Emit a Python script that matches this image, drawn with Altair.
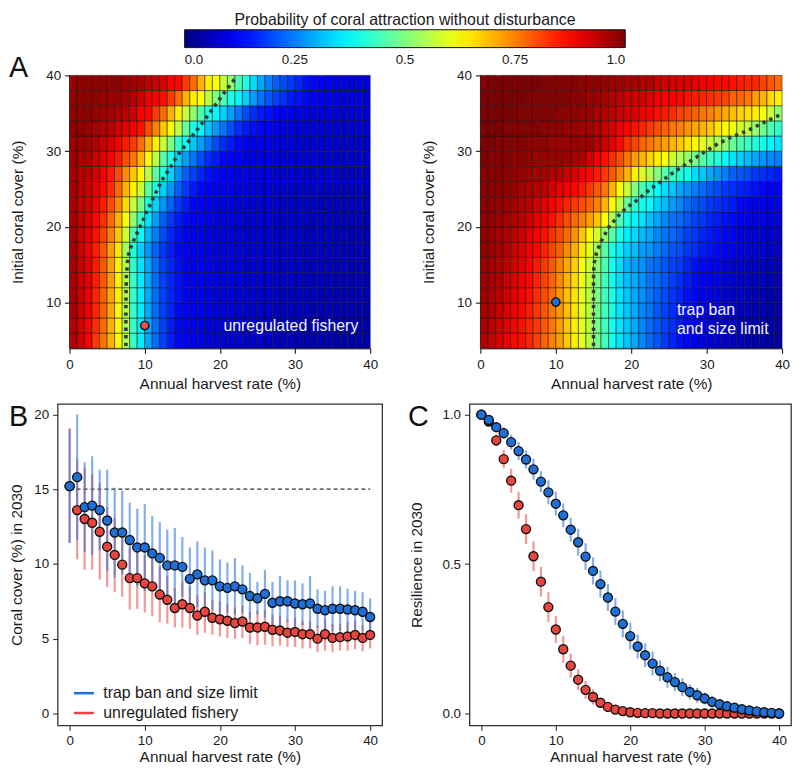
import json
import altair as alt
import pandas as pd

# ---------------- data ----------------
harvest_rate = list(range(41))

heat_harvest_edges = list(range(41))
heat_cover_edges = [4, 6, 8, 10, 12, 14, 16, 18, 20, 22, 24, 26, 28, 30, 32, 34, 36, 38, 40]

# rows from bottom (cover 4-6) to top (cover 38-40), 40 harvest-rate cells each
prob_unregulated = [
    [0.95,0.92,0.88,0.82,0.76,0.70,0.63,0.55,0.43,0.36, 0.29,0.23,0.19,0.15,0.13,0.12,0.11,0.10,0.09,0.09, 0.08,0.08,0.08,0.07,0.07,0.07,0.06,0.06,0.06,0.06, 0.05,0.05,0.05,0.05,0.05,0.04,0.04,0.04,0.04,0.04],
    [0.95,0.92,0.88,0.83,0.77,0.70,0.63,0.55,0.43,0.36, 0.29,0.23,0.19,0.15,0.13,0.12,0.11,0.10,0.09,0.09, 0.09,0.08,0.08,0.07,0.07,0.07,0.07,0.06,0.06,0.06, 0.06,0.05,0.05,0.05,0.05,0.05,0.04,0.04,0.04,0.04],
    [0.96,0.93,0.89,0.84,0.78,0.71,0.63,0.55,0.43,0.36, 0.29,0.23,0.19,0.16,0.13,0.12,0.11,0.10,0.10,0.09, 0.09,0.08,0.08,0.08,0.07,0.07,0.07,0.06,0.06,0.06, 0.06,0.06,0.05,0.05,0.05,0.05,0.05,0.05,0.04,0.04],
    [0.96,0.93,0.89,0.84,0.78,0.71,0.64,0.55,0.43,0.36, 0.29,0.23,0.19,0.16,0.14,0.12,0.11,0.10,0.10,0.09, 0.09,0.09,0.08,0.08,0.08,0.07,0.07,0.07,0.06,0.06, 0.06,0.06,0.06,0.05,0.05,0.05,0.05,0.05,0.05,0.05],
    [0.96,0.93,0.90,0.85,0.79,0.72,0.64,0.55,0.43,0.36, 0.29,0.23,0.19,0.16,0.14,0.12,0.11,0.11,0.10,0.10, 0.09,0.09,0.09,0.08,0.08,0.08,0.07,0.07,0.07,0.07, 0.06,0.06,0.06,0.06,0.06,0.05,0.05,0.05,0.05,0.05],
    [0.96,0.93,0.90,0.85,0.79,0.72,0.64,0.55,0.42,0.35, 0.29,0.23,0.19,0.16,0.14,0.12,0.11,0.11,0.10,0.10, 0.09,0.09,0.09,0.08,0.08,0.08,0.08,0.07,0.07,0.07, 0.07,0.06,0.06,0.06,0.06,0.06,0.06,0.05,0.05,0.05],
    [0.96,0.93,0.89,0.85,0.79,0.72,0.65,0.53,0.41,0.33, 0.27,0.22,0.18,0.15,0.13,0.12,0.11,0.10,0.10,0.09, 0.09,0.09,0.08,0.08,0.08,0.08,0.07,0.07,0.07,0.07, 0.06,0.06,0.06,0.06,0.06,0.06,0.05,0.05,0.05,0.05],
    [0.96,0.93,0.90,0.86,0.81,0.75,0.68,0.58,0.45,0.38, 0.30,0.25,0.20,0.16,0.14,0.12,0.11,0.10,0.10,0.09, 0.09,0.09,0.08,0.08,0.08,0.08,0.07,0.07,0.07,0.07, 0.07,0.06,0.06,0.06,0.06,0.06,0.06,0.05,0.05,0.05],
    [0.96,0.94,0.91,0.87,0.83,0.77,0.70,0.62,0.52,0.42, 0.35,0.28,0.22,0.18,0.15,0.13,0.12,0.11,0.10,0.10, 0.09,0.09,0.09,0.08,0.08,0.08,0.08,0.07,0.07,0.07, 0.07,0.07,0.06,0.06,0.06,0.06,0.06,0.06,0.05,0.05],
    [0.96,0.94,0.92,0.89,0.85,0.80,0.74,0.66,0.57,0.50, 0.40,0.33,0.27,0.22,0.18,0.15,0.13,0.12,0.11,0.10, 0.10,0.09,0.09,0.09,0.08,0.08,0.08,0.08,0.07,0.07, 0.07,0.07,0.07,0.06,0.06,0.06,0.06,0.06,0.06,0.05],
    [0.96,0.95,0.93,0.90,0.87,0.83,0.77,0.70,0.64,0.57, 0.47,0.40,0.33,0.27,0.22,0.18,0.15,0.13,0.12,0.11, 0.10,0.10,0.09,0.09,0.09,0.08,0.08,0.08,0.08,0.07, 0.07,0.07,0.07,0.07,0.06,0.06,0.06,0.06,0.06,0.06],
    [0.96,0.95,0.94,0.92,0.89,0.85,0.80,0.74,0.68,0.63, 0.56,0.46,0.40,0.33,0.27,0.22,0.19,0.16,0.14,0.13, 0.12,0.11,0.10,0.10,0.09,0.09,0.09,0.08,0.08,0.08, 0.08,0.07,0.07,0.07,0.07,0.07,0.06,0.06,0.06,0.06],
    [0.97,0.96,0.95,0.93,0.91,0.88,0.85,0.80,0.76,0.70, 0.63,0.56,0.46,0.40,0.33,0.28,0.24,0.20,0.17,0.15, 0.13,0.12,0.11,0.10,0.10,0.09,0.09,0.09,0.08,0.08, 0.08,0.08,0.08,0.07,0.07,0.07,0.07,0.07,0.07,0.07],
    [0.97,0.97,0.96,0.95,0.93,0.91,0.88,0.85,0.82,0.77, 0.70,0.64,0.57,0.50,0.42,0.38,0.32,0.28,0.24,0.20, 0.17,0.15,0.13,0.12,0.11,0.11,0.10,0.10,0.09,0.09, 0.09,0.08,0.08,0.08,0.08,0.08,0.07,0.07,0.07,0.07],
    [0.98,0.98,0.97,0.96,0.95,0.94,0.92,0.90,0.88,0.86, 0.80,0.75,0.68,0.63,0.56,0.47,0.40,0.37,0.32,0.28, 0.24,0.20,0.17,0.15,0.14,0.13,0.12,0.11,0.10,0.10, 0.09,0.09,0.09,0.09,0.08,0.08,0.08,0.08,0.08,0.08],
    [0.98,0.98,0.98,0.97,0.97,0.96,0.95,0.94,0.93,0.88, 0.87,0.82,0.77,0.70,0.64,0.57,0.52,0.45,0.40,0.37, 0.33,0.28,0.24,0.20,0.17,0.15,0.14,0.13,0.12,0.11, 0.10,0.10,0.09,0.09,0.09,0.09,0.08,0.08,0.08,0.08],
    [0.98,0.98,0.98,0.98,0.97,0.97,0.97,0.96,0.95,0.93, 0.89,0.88,0.86,0.82,0.77,0.70,0.64,0.62,0.56,0.50, 0.45,0.40,0.37,0.33,0.28,0.24,0.21,0.19,0.17,0.15, 0.14,0.13,0.12,0.11,0.10,0.10,0.09,0.09,0.09,0.08],
    [0.97,0.98,0.98,0.98,0.98,0.98,0.98,0.97,0.96,0.96, 0.94,0.93,0.91,0.88,0.87,0.82,0.77,0.70,0.64,0.62, 0.57,0.52,0.45,0.40,0.34,0.29,0.25,0.22,0.20,0.18, 0.16,0.14,0.13,0.12,0.11,0.10,0.10,0.09,0.09,0.09],
]

prob_trapban = [
    [0.95,0.93,0.91,0.89,0.87,0.86,0.84,0.81,0.78,0.75, 0.72,0.68,0.64,0.60,0.55,0.49,0.44,0.39,0.35,0.32, 0.29,0.26,0.23,0.21,0.18,0.16,0.14,0.13,0.11,0.10, 0.09,0.08,0.07,0.06,0.06,0.05,0.04,0.04,0.03,0.03],
    [0.96,0.94,0.92,0.90,0.88,0.86,0.84,0.82,0.79,0.76, 0.72,0.68,0.64,0.60,0.55,0.49,0.44,0.39,0.35,0.32, 0.29,0.26,0.23,0.21,0.19,0.17,0.15,0.13,0.12,0.10, 0.09,0.08,0.07,0.07,0.06,0.05,0.05,0.04,0.04,0.03],
    [0.96,0.95,0.93,0.91,0.89,0.87,0.85,0.82,0.79,0.76, 0.73,0.69,0.65,0.60,0.55,0.49,0.44,0.40,0.35,0.32, 0.29,0.26,0.24,0.21,0.19,0.17,0.15,0.14,0.12,0.11, 0.10,0.09,0.08,0.07,0.06,0.06,0.05,0.05,0.04,0.04],
    [0.97,0.95,0.94,0.92,0.90,0.88,0.86,0.83,0.80,0.77, 0.73,0.69,0.65,0.60,0.55,0.50,0.44,0.40,0.35,0.32, 0.29,0.27,0.24,0.22,0.20,0.18,0.16,0.14,0.13,0.11, 0.10,0.09,0.08,0.07,0.07,0.06,0.05,0.05,0.04,0.04],
    [0.97,0.96,0.95,0.93,0.91,0.89,0.87,0.84,0.81,0.78, 0.74,0.70,0.66,0.61,0.56,0.50,0.44,0.39,0.34,0.31, 0.29,0.27,0.24,0.23,0.21,0.19,0.17,0.15,0.13,0.12, 0.11,0.10,0.09,0.08,0.07,0.07,0.06,0.06,0.05,0.05],
    [0.97,0.96,0.95,0.94,0.92,0.90,0.88,0.85,0.82,0.79, 0.75,0.71,0.67,0.62,0.57,0.51,0.45,0.39,0.34,0.30, 0.28,0.27,0.24,0.23,0.21,0.19,0.18,0.16,0.14,0.13, 0.12,0.11,0.10,0.08,0.08,0.07,0.07,0.06,0.06,0.05],
    [0.98,0.97,0.96,0.95,0.93,0.91,0.89,0.87,0.84,0.81, 0.78,0.74,0.70,0.65,0.60,0.53,0.46,0.40,0.36,0.33, 0.31,0.28,0.27,0.25,0.23,0.21,0.20,0.18,0.17,0.15, 0.14,0.13,0.12,0.11,0.10,0.09,0.08,0.08,0.07,0.07],
    [0.98,0.97,0.96,0.95,0.94,0.92,0.90,0.88,0.86,0.83, 0.80,0.77,0.73,0.68,0.63,0.58,0.52,0.46,0.40,0.36, 0.34,0.31,0.29,0.26,0.24,0.23,0.21,0.19,0.18,0.16, 0.15,0.14,0.13,0.12,0.10,0.09,0.09,0.08,0.08,0.07],
    [0.98,0.98,0.97,0.96,0.95,0.94,0.92,0.90,0.88,0.86, 0.83,0.80,0.77,0.75,0.72,0.68,0.62,0.55,0.45,0.40, 0.37,0.35,0.31,0.29,0.26,0.24,0.23,0.21,0.19,0.18, 0.16,0.15,0.14,0.13,0.12,0.11,0.10,0.10,0.09,0.09],
    [0.99,0.98,0.98,0.97,0.96,0.95,0.94,0.92,0.90,0.88, 0.86,0.84,0.82,0.80,0.78,0.75,0.70,0.63,0.56,0.47, 0.42,0.39,0.37,0.33,0.31,0.28,0.26,0.23,0.21,0.20, 0.18,0.17,0.16,0.15,0.13,0.12,0.11,0.11,0.10,0.10],
    [0.99,0.99,0.98,0.98,0.97,0.96,0.95,0.95,0.94,0.92, 0.90,0.89,0.87,0.85,0.82,0.79,0.76,0.70,0.63,0.57, 0.50,0.45,0.41,0.38,0.34,0.32,0.29,0.27,0.25,0.23, 0.21,0.20,0.18,0.17,0.16,0.15,0.14,0.13,0.12,0.12],
    [0.99,0.99,0.99,0.98,0.98,0.97,0.97,0.96,0.96,0.95, 0.95,0.93,0.91,0.89,0.87,0.85,0.82,0.79,0.75,0.70, 0.64,0.59,0.55,0.50,0.46,0.44,0.41,0.39,0.34,0.32, 0.29,0.27,0.25,0.22,0.21,0.20,0.18,0.17,0.16,0.15],
    [1.00,0.99,0.99,0.99,0.98,0.98,0.98,0.97,0.97,0.97, 0.97,0.97,0.96,0.95,0.92,0.89,0.86,0.83,0.80,0.76, 0.72,0.70,0.67,0.64,0.62,0.58,0.55,0.52,0.49,0.46, 0.43,0.41,0.38,0.35,0.33,0.31,0.29,0.27,0.26,0.25],
    [1.00,1.00,0.99,0.99,0.99,0.99,0.98,0.98,0.98,0.97, 0.97,0.97,0.97,0.97,0.97,0.95,0.93,0.90,0.87,0.83, 0.81,0.78,0.76,0.74,0.72,0.70,0.68,0.65,0.63,0.60, 0.57,0.54,0.51,0.48,0.45,0.43,0.41,0.39,0.37,0.35],
    [1.00,1.00,1.00,0.99,0.99,0.99,0.99,0.99,0.98,0.98, 0.98,0.97,0.97,0.96,0.96,0.95,0.93,0.91,0.89,0.87, 0.86,0.84,0.82,0.80,0.78,0.76,0.75,0.73,0.71,0.70, 0.68,0.65,0.63,0.61,0.58,0.56,0.52,0.49,0.45,0.42],
    [1.00,1.00,1.00,1.00,1.00,0.99,0.99,0.99,0.99,0.99, 0.98,0.98,0.98,0.97,0.97,0.96,0.95,0.94,0.93,0.92, 0.91,0.89,0.88,0.86,0.85,0.83,0.81,0.80,0.78,0.76, 0.75,0.73,0.71,0.69,0.67,0.66,0.64,0.62,0.57,0.52],
    [1.00,1.00,1.00,1.00,1.00,1.00,0.99,0.99,0.99,0.99, 0.99,0.99,0.98,0.98,0.97,0.97,0.96,0.95,0.94,0.93, 0.93,0.92,0.90,0.89,0.88,0.88,0.87,0.86,0.85,0.84, 0.83,0.82,0.81,0.78,0.77,0.76,0.72,0.70,0.66,0.64],
    [0.99,1.00,1.00,1.00,1.00,1.00,1.00,1.00,0.99,0.99, 0.99,0.99,0.99,0.98,0.98,0.98,0.98,0.97,0.97,0.96, 0.96,0.95,0.95,0.93,0.92,0.92,0.91,0.91,0.90,0.89, 0.88,0.87,0.87,0.86,0.85,0.84,0.84,0.81,0.79,0.77],
]

# 0.5 contour lines (dotted)
contour_unreg_x = [7.5, 7.5, 7.55, 7.75, 8.1, 8.7, 9.6, 10.5, 11.35, 12.2, 13.3, 14.4, 15.75, 17.1, 18.4, 19.6, 20.8, 22.05]
contour_unreg_y = [4.3, 10.0, 13.3, 16.0, 17.2, 18.6, 20.5, 22.5, 24.25, 26.0, 27.7, 29.5, 31.2, 33.0, 34.7, 36.4, 38.0, 39.6]
contour_trap_x = [15.0, 15.0, 15.05, 15.4, 16.0, 17.1, 18.4, 19.3, 20.9, 22.4, 24.2, 25.9, 27.7, 29.4, 31.2, 32.9, 34.7, 36.4, 38.2, 40.0]
contour_trap_y = [4.3, 13.3, 15.1, 16.6, 18.1, 20.1, 21.6, 22.5, 23.6, 24.9, 26.2, 27.4, 28.6, 29.7, 30.8, 31.7, 32.4, 33.2, 34.1, 34.9]

# current state markers
state_unreg = {"x0": [10.0], "y0": [7.0]}
state_trap = {"x0": [10.0], "y0": [10.1]}

colorbar_ticks = [0, 0.25, 0.5, 0.75, 1.0]
colorbar_labels = ["0.0", "0.25", "0.5", "0.75", "1.0"]

series_names = ["trap ban and size limit", "unregulated fishery"]

cover_trap_mean = [15.2,15.8,13.8,13.9,13.6,12.9,12.1,12.1,11.6,11.1,11.1,10.7,10.4,9.9,9.9,9.8,9.0,9.3,8.9,8.9,8.5,8.4,8.5,8.3,7.85,7.7,8.0,7.4,7.5,7.5,7.35,7.3,7.35,7.0,6.9,7.0,7.0,6.95,6.9,6.8,6.45]
cover_trap_hi = [19.05,20.0,16.8,17.2,16.3,16.3,15.1,14.9,14.1,13.7,14.0,13.2,12.8,12.3,12.4,11.8,11.1,11.5,11.1,10.9,10.3,10.1,10.4,9.9,9.4,8.8,9.6,8.8,9.2,8.9,8.9,8.7,9.2,8.3,8.2,8.5,8.5,8.35,8.2,8.1,7.7]
cover_trap_lo = [11.4,11.6,10.8,10.6,10.9,9.5,9.1,9.3,9.1,8.5,8.2,8.2,8.0,7.5,7.4,7.8,6.9,7.1,6.7,6.9,6.7,6.7,6.6,6.7,6.3,6.6,6.4,6.0,5.8,6.1,5.8,5.9,5.5,5.7,5.6,5.5,5.5,5.5,5.6,5.5,5.2]
cover_unreg_mean = [15.2,13.6,13.0,12.75,12.15,11.15,10.6,9.95,9.05,9.05,8.7,8.5,7.95,7.6,7.05,7.3,7.05,6.55,6.8,6.4,6.3,6.2,6.05,6.15,5.75,5.75,5.8,5.6,5.55,5.4,5.45,5.3,5.3,5.0,5.3,5.05,5.1,5.15,5.25,5.05,5.25]
cover_unreg_hi = [19.05,17.0,16.4,16.0,15.4,13.8,13.1,12.1,11.1,11.1,10.6,10.5,9.8,9.2,8.4,8.8,8.5,7.9,8.1,7.6,7.5,7.3,7.1,7.2,6.8,6.9,6.9,6.6,6.5,6.3,6.4,6.2,6.2,5.9,6.3,6.0,6.0,6.1,6.2,5.9,6.1]
cover_unreg_lo = [11.4,10.3,9.6,9.6,8.95,8.45,8.1,7.8,6.95,7.0,6.75,6.5,6.1,6.0,5.75,5.75,5.65,5.25,5.4,5.25,5.15,5.05,5.0,5.05,4.65,4.55,4.6,4.5,4.55,4.45,4.45,4.35,4.35,4.1,4.2,4.1,4.2,4.2,4.3,4.15,4.35]
cover_threshold = [15]

res_trap_mean = [1.0,0.982,0.958,0.938,0.908,0.878,0.850,0.817,0.776,0.740,0.702,0.663,0.615,0.573,0.525,0.477,0.433,0.388,0.341,0.300,0.259,0.224,0.195,0.167,0.143,0.121,0.105,0.088,0.072,0.061,0.050,0.039,0.031,0.024,0.019,0.014,0.010,0.007,0.004,0.002,0.0]
res_trap_hi = [1.005,0.992,0.973,0.958,0.933,0.908,0.880,0.852,0.811,0.780,0.742,0.703,0.655,0.618,0.570,0.522,0.478,0.433,0.386,0.345,0.304,0.264,0.235,0.207,0.178,0.156,0.135,0.118,0.097,0.086,0.070,0.059,0.046,0.039,0.029,0.024,0.018,0.013,0.008,0.005,0.002]
res_trap_lo = [0.995,0.972,0.943,0.918,0.883,0.848,0.820,0.782,0.741,0.700,0.662,0.623,0.575,0.528,0.480,0.432,0.388,0.343,0.296,0.255,0.214,0.184,0.155,0.127,0.108,0.086,0.075,0.058,0.047,0.036,0.030,0.019,0.016,0.009,0.009,0.004,0.002,0.001,0.0,0.0,0.0]
res_unreg_mean = [1.0,0.977,0.914,0.851,0.779,0.697,0.617,0.526,0.441,0.356,0.281,0.215,0.160,0.113,0.079,0.055,0.036,0.022,0.013,0.008,0.004,0.002,0.001,0.001,0.0,0.0,0.0,0.0,0.0,0.0,0.0,0.0,0.0,0.0,0.0,0.0,0.0,0.0,0.0,0.0,0.0]
res_unreg_hi = [1.0,0.987,0.934,0.881,0.819,0.742,0.667,0.576,0.491,0.406,0.326,0.260,0.200,0.148,0.109,0.080,0.051,0.032,0.021,0.013,0.007,0.004,0.003,0.003,0.002,0.002,0.002,0.002,0.002,0.002,0.002,0.002,0.002,0.002,0.002,0.002,0.002,0.002,0.002,0.002,0.002]
res_unreg_lo = [1.0,0.967,0.894,0.821,0.739,0.652,0.567,0.476,0.391,0.306,0.236,0.170,0.120,0.078,0.049,0.030,0.021,0.012,0.005,0.003,0.001,0.0,0.0,0.0,0.0,0.0,0.0,0.0,0.0,0.0,0.0,0.0,0.0,0.0,0.0,0.0,0.0,0.0,0.0,0.0,0.0]

# ---------------- styling ----------------
FONT = "Liberation Sans"
TXT = "#1a1a1a"
BLUE = "#1f6fd9"
RED = "#e8453f"
jet = alt.Scale(domain=[0, 0.125, 0.375, 0.625, 0.875, 1.0],
                range=["#00007f", "#0000ff", "#00ffff", "#ffff00", "#ff0000", "#7f0000"],
                interpolate="rgb")
NOFRAME = alt.ViewBackground(stroke="transparent")
PANEL_H = 324


def heat_frame(rows):
    recs = []
    for k, row in enumerate(rows):
        for i, p in enumerate(row):
            recs.append({"x0": heat_harvest_edges[i], "x1": heat_harvest_edges[i + 1],
                         "y0": heat_cover_edges[k], "y1": heat_cover_edges[k + 1], "p": p})
    return pd.DataFrame(recs)


hx_scale = alt.Scale(domain=[0, 40], nice=False, zero=False)
hy_scale = alt.Scale(domain=[4, 40], nice=False, zero=False)
hx_axis = alt.Axis(values=[0, 10, 20, 30, 40], format="d", title="Annual harvest rate (%)",
                   tickSize=5, labelPadding=4, titlePadding=6, labelFlush=False,
                   domainColor="black", tickColor="black", grid=False)
hy_axis = alt.Axis(values=[10, 20, 30, 40], format="d", title="Initial coral cover (%)",
                   tickSize=5, labelPadding=4, titlePadding=20, labelFlush=False,
                   domainColor="black", tickColor="black", grid=False)


def HX(f):
    return alt.X(f, type="quantitative", scale=hx_scale, axis=hx_axis)


def HY(f):
    return alt.Y(f, type="quantitative", scale=hy_scale, axis=hy_axis)


label_expr = "%s[indexof(%s, datum.value)]" % (json.dumps(colorbar_labels), json.dumps(colorbar_ticks))

heat_legend = alt.Legend(
    orient="none", legendX=116, legendY=-64, direction="horizontal",
    gradientLength=444, gradientThickness=18,
    title="Probability of coral attraction without disturbance",
    titleOrient="top", titleAnchor="middle", titleFontSize=16, titleFontWeight="normal",
    titleColor=TXT, titlePadding=2, titleFont=FONT, titleLimit=700,
    labelFontSize=13.5, labelColor=TXT, labelFont=FONT, labelAlign="center", labelOffset=6,
    labelOverlap=False, values=colorbar_ticks, labelExpr=label_expr,
    gradientStrokeColor="#111111", gradientStrokeWidth=1, padding=0, offset=0)


def heatmap(rows, cx, cy, state, dot_color, legend):
    df = heat_frame(rows)
    rect = alt.Chart(df).mark_rect(stroke="#111111", strokeWidth=0.6, strokeOpacity=0.85).encode(
        x=HX("x0"), x2="x1", y=HY("y0"), y2="y1",
        color=alt.Color("p:Q", scale=jet, legend=legend))
    cdf = pd.DataFrame({"x0": cx, "y0": cy, "o": list(range(len(cx)))})
    line = alt.Chart(cdf).mark_line(color="#3a3a3a", strokeWidth=3.6, strokeDash=[3.4, 4.2]).encode(
        x=HX("x0"), y=HY("y0"), order="o:Q")
    dot = alt.Chart(pd.DataFrame(state)).mark_point(
        filled=True, size=70, fill=dot_color, stroke="#111111", strokeWidth=1.4, opacity=1).encode(
        x=HX("x0"), y=HY("y0"))
    return [rect, line, dot]


def label_layer(text, x, y, align):
    return alt.Chart(pd.DataFrame({"t": [text]})).mark_text(
        align=align, baseline="alphabetic", fontSize=16, color="#f2f6ff", font=FONT).encode(
        text="t:N", x=alt.value(x), y=alt.value(y))


def letter_layer(letter, x, y):
    return alt.Chart(pd.DataFrame({"t": [letter]})).mark_text(
        align="left", baseline="alphabetic", fontSize=29, color="#111111", font=FONT).encode(
        text="t:N", x=alt.value(x), y=alt.value(y))


h1 = alt.layer(*heatmap(prob_unregulated, contour_unreg_x, contour_unreg_y, state_unreg, "#e8544e", heat_legend),
               label_layer("unregulated fishery", 291, 258, "right")).properties(
    width=303, height=275, view=NOFRAME)
h2 = alt.layer(*heatmap(prob_trapban, contour_trap_x, contour_trap_y, state_trap, BLUE, None),
               label_layer("trap ban", 198, 241, "left"),
               label_layer("and size limit", 198, 261, "left")).properties(
    width=304, height=275, view=NOFRAME)

# narrow spacer that carries the panel letter A and offsets the heatmap row by 12 px
spacer_a = letter_layer("A", -49, 2).properties(width=12, height=275, view=NOFRAME)

# ---------------- bottom panels ----------------
bx_scale = alt.Scale(domain=[-1.6, 41.6], nice=False, zero=False)
bx_axis = alt.Axis(values=[0, 10, 20, 30, 40], format="d", title="Annual harvest rate (%)",
                   tickSize=5, labelPadding=3, titlePadding=3, domain=False, labelFlush=False,
                   tickColor="#222222", grid=False)


def BX(f):
    return alt.X(f, type="quantitative", scale=bx_scale, axis=bx_axis)


series_stroke = alt.Scale(domain=series_names, range=[BLUE, RED])


def panel(mean_t, lo_t, hi_t, mean_u, lo_u, hi_u, y_scale, y_axis, legend, extra=None):
    def BY(f):
        return alt.Y(f, type="quantitative", scale=y_scale, axis=y_axis)

    bars = pd.DataFrame({
        "series": [series_names[1]] * 41 + [series_names[0]] * 41,
        "x": harvest_rate + harvest_rate,
        "lo": lo_u + lo_t, "hi": hi_u + hi_t})
    pts = pd.DataFrame({
        "series": [series_names[1]] * 41 + [series_names[0]] * 41,
        "x": harvest_rate + harvest_rate,
        "m": mean_u + mean_t})
    rules = alt.Chart(bars).mark_rule(strokeWidth=2.2, opacity=0.55).encode(
        x=BX("x"), y=BY("lo"), y2="hi",
        stroke=alt.Stroke("series:N", scale=series_stroke, legend=legend))
    points = alt.Chart(pts).mark_point(filled=True, size=82, stroke="#111111", strokeWidth=1.4, opacity=1).encode(
        x=BX("x"), y=BY("m"),
        fill=alt.Fill("series:N", scale=series_stroke, legend=None))
    layers = []
    if extra is not None:
        layers.append(extra(BY))
    layers += [rules, points]
    return layers


b_legend = alt.Legend(orient="none", legendX=15, legendY=280, title=None, symbolType="stroke",
                      symbolSize=400, symbolStrokeWidth=2.5, symbolOpacity=1, labelFontSize=16,
                      labelColor=TXT, labelFont=FONT, labelOffset=8, rowPadding=0, padding=0)

by_scale = alt.Scale(domain=[-0.8, 20.7], nice=False, zero=False)
by_axis = alt.Axis(values=[0, 5, 10, 15, 20], format="d", title="Coral cover (%) in 2030",
                   tickSize=5, labelPadding=4, titlePadding=9, domain=False, tickColor="#222222", grid=False)


def threshold(BY):
    return alt.Chart(pd.DataFrame({"y": cover_threshold, "xs": [0], "xe": [40]})).mark_rule(
        strokeDash=[4, 3], color="#333333", strokeWidth=1.2).encode(x=BX("xs"), x2="xe", y=BY("y"))


b_layers = panel(cover_trap_mean, cover_trap_lo, cover_trap_hi, cover_unreg_mean, cover_unreg_lo,
                 cover_unreg_hi, by_scale, by_axis, b_legend, extra=threshold)
panel_b = alt.layer(*b_layers, letter_layer("B", -49, 22)).properties(
    width=327, height=PANEL_H, view=alt.ViewBackground(stroke="#333333", strokeWidth=1.3))

cy_scale = alt.Scale(domain=[-0.04, 1.036], nice=False, zero=False)
cy_axis = alt.Axis(values=[0, 0.5, 1.0], format=".1f", title="Resilience in 2030",
                   tickSize=5, labelPadding=4, titlePadding=18, domain=False, tickColor="#222222", grid=False)
c_layers = panel(res_trap_mean, res_trap_lo, res_trap_hi, res_unreg_mean, res_unreg_lo, res_unreg_hi,
                 cy_scale, cy_axis, None)
panel_c = alt.layer(*c_layers, letter_layer("C", -62, 22)).properties(
    width=324, height=PANEL_H, view=alt.ViewBackground(stroke="#333333", strokeWidth=1.3))

# ---------------- layout ----------------
heat_pair = alt.hconcat(h1, h2, spacing=111, bounds="flush").resolve_scale(
    color="independent", x="independent", y="independent")
row1 = alt.hconcat(spacer_a, heat_pair, spacing=0, bounds="flush").resolve_scale(color="independent")
row2 = alt.hconcat(panel_b, panel_c, spacing=88, bounds="flush").resolve_scale(
    x="independent", y="independent", fill="independent", stroke="independent")

chart = alt.vconcat(row1, row2, spacing=9).resolve_scale(
    color="independent", fill="independent", stroke="independent"
).properties(
    padding={"left": 0, "top": 0, "right": 0, "bottom": 0}
).configure(font=FONT).configure_axis(
    labelFontSize=13.5, titleFontSize=15.5, titleFontWeight="normal",
    labelColor=TXT, titleColor=TXT, labelFont=FONT, titleFont=FONT
).configure_text(font=FONT)

chart.save("out.html", embed_options={"renderer": "svg", "actions": False})
